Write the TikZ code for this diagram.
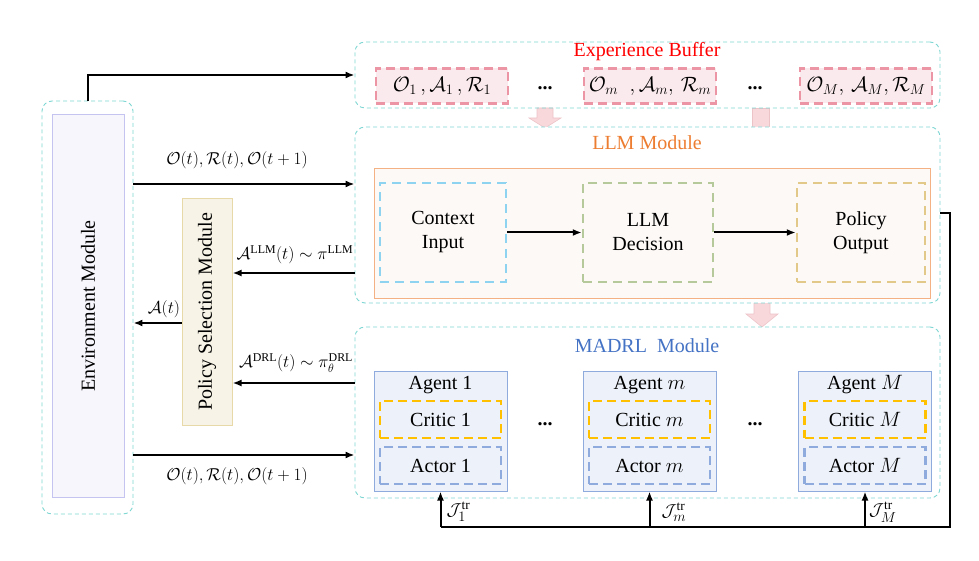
\documentclass[tikz,border=0pt]{standalone}
\usepackage{amsmath}
\usepackage{fontspec}
\setmainfont{Liberation Serif}
\usetikzlibrary{arrows.meta,calc}
\definecolor{tealc}{RGB}{125,214,210}
\definecolor{pinkb}{RGB}{236,150,165}
\definecolor{pinkf}{RGB}{251,234,237}
\definecolor{blkarrf}{RGB}{249,216,220}
\definecolor{blkarrd}{RGB}{236,196,200}
\definecolor{orangec}{RGB}{237,125,49}
\definecolor{llmf}{RGB}{253,249,246}
\definecolor{llmd}{RGB}{244,177,131}
\definecolor{ctxc}{RGB}{142,211,240}
\definecolor{decc}{RGB}{181,201,154}
\definecolor{outc}{RGB}{226,201,138}
\definecolor{bluet}{RGB}{68,114,196}
\definecolor{agf}{RGB}{237,241,249}
\definecolor{agd}{RGB}{143,170,220}
\definecolor{goldc}{RGB}{255,192,0}
\definecolor{polf}{RGB}{247,243,230}
\definecolor{pold}{RGB}{232,217,168}
\definecolor{envf}{RGB}{247,246,253}
\definecolor{envd}{RGB}{197,195,239}
\begin{document}
\begin{tikzpicture}[x=1pt,y=-1pt,font=\fontsize{20}{24}\selectfont,
  modbox/.style={draw=tealc, dash pattern=on 4pt off 3pt, rounded corners=10pt, line width=0.9pt, minimum width=585pt},
  entry/.style={draw=pinkb, fill=pinkf, line width=2.5pt, dash pattern=on 9pt off 5pt, minimum width=132pt, minimum height=35pt, inner sep=0pt},
  subbox/.style={line width=2.5pt, dash pattern=on 9pt off 6pt, minimum height=99pt, align=center, fill=llmf},
  agentbox/.style={draw=agd, fill=agf, line width=1pt, minimum width=133pt, minimum height=120pt},
  critbox/.style={draw=goldc, line width=2.5pt, dash pattern=on 9pt off 5pt, minimum width=121pt, minimum height=37pt},
  actbox/.style={draw=agd, line width=2.5pt, dash pattern=on 9pt off 5pt, minimum width=121pt, minimum height=37pt},
  arr/.style={-{Latex[length=9pt,width=7pt]}, line width=2pt},
  blk/.style={fill=blkarrf, draw=blkarrd, line width=0.6pt},
  lbl/.style={font=\fontsize{17}{20}\selectfont, inner sep=0pt},
  jlbl/.style={font=\fontsize{19}{22}\selectfont, inner sep=0pt, anchor=west},
  dots/.style={font=\fontsize{20}{24}\selectfont\bfseries, inner sep=0pt}]
\path[use as bounding box] (0,0) rectangle (979,561);

% pink block arrows (behind modules)
\draw[blk] (537,108) -- (553,108) -- (553,118) -- (561,118) -- (545,128) -- (529,118) -- (537,118) -- cycle;
\draw[blk] (752,108) rectangle (769,127);
\draw[blk] (754,303) -- (770,303) -- (770,314) -- (778,314) -- (762,327) -- (746,314) -- (754,314) -- cycle;

% Environment
\node[modbox, minimum width=91pt, minimum height=413pt] (envout) at (87.5,307.5) {};
\node[draw=envd, fill=envf, line width=1pt, minimum width=72pt, minimum height=382pt] (envin) at (88,306) {};
\node[rotate=90] (envtxt) at (envin.center) {Environment Module};

% Experience buffer
\node[modbox, minimum height=66pt] (buf) at (647.5,75) {};
\node[text=red] (buft) at (647,52) {Experience Buffer};
\node[entry] (e1) at (442,86) {$\mathcal{O}_1\,,\mathcal{A}_1\,,\mathcal{R}_1$};
\node[entry] (e2) at (650,86) {$\mathcal{O}_m\;\;,\mathcal{A}_{m},\,\mathcal{R}_m$};
\node[entry] (e3) at (866,86) {$\mathcal{O}_M,\,\mathcal{A}_M,\mathcal{R}_M$};
\node[dots] (d1) at (545,88) {...};
\node[dots] (d2) at (755,88) {...};

% LLM module
\node[modbox, minimum height=176pt, fill=white] (llm) at (647.5,215) {};
\node[text=orangec] (llmt) at (647,143) {LLM Module};
\node[draw=llmd, fill=llmf, line width=1pt, minimum width=556pt, minimum height=129pt] (llmin) at (652,233.5) {};
\node[subbox, draw=ctxc, minimum width=126pt] (ctx) at (443,232.5) {Context\\Input};
\node[subbox, draw=decc, minimum width=130pt] (dec) at (648,232.5) {LLM\\Decision};
\node[subbox, draw=outc, minimum width=128pt] (pout) at (861,232.5) {Policy\\Output};
\draw[arr] (ctx) -- (dec);
\draw[arr] (dec) -- (pout);

% MADRL module
\node[modbox, minimum height=171pt, fill=white] (madrl) at (647.5,412.5) {};
\node[text=bluet] (madt) at (647,346) {MADRL\ \ Module};
\foreach \n/\x/\s in {1/440.5/1, m/649.5/$m$, M/865/$M$}{
  \node[agentbox] (ag\n) at (\x,431) {};
  \node[inner sep=0pt] (agt\n) at ($(ag\n)+(0,-46)$) {Agent \s};
  \node[critbox] (cr\n) at ($(ag\n)+(0,-11.5)$) {Critic \s};
  \node[actbox] (ac\n) at ($(ag\n)+(0,34.5)$) {Actor \s};
}
\node[dots] (d3) at (545,424) {...};
\node[dots] (d4) at (755,424) {...};

% Policy selection
\node[draw=pold, fill=polf, line width=1pt, minimum width=50pt, minimum height=226pt] (pol) at (207,312) {};
\node[rotate=90] (poltxt) at (pol.center) {Policy Selection Module};

% helper heights
\coordinate (ya) at (0,184);
\coordinate (yb) at (0,273);
\coordinate (yc) at (0,323);
\coordinate (yd) at (0,383);
\coordinate (ye) at (0,455);
\coordinate (yf) at (0,213);
\coordinate (fb) at (950,527);
\coordinate (yj) at (0,512);

% arrows
\draw[arr] (envout.north) |- (buf.west);
\draw[arr] (envout.east |- ya) -- (llm.west |- ya);
\draw[arr] (llm.west |- yb) -- (pol.east |- yb);
\draw[arr] (pol.west |- yc) -- (envout.east |- yc);
\draw[arr] (madrl.west |- yd) -- (pol.east |- yd);
\draw[arr] (envout.east |- ye) -- (madrl.west |- ye);

\node[lbl] (l1) at (237,160) {$\mathcal{O}(t),\mathcal{R}(t),\mathcal{O}(t+1)$};
\node[lbl] (l2) at (295,255) {$\mathcal{A}^{\mathrm{LLM}}(t)\sim\pi^{\mathrm{LLM}}$};
\node[lbl] (l3) at (164,309) {$\mathcal{A}(t)$};
\node[lbl] (l4) at (296,363) {$\mathcal{A}^{\mathrm{DRL}}(t)\sim\pi_\theta^{\mathrm{DRL}}$};
\node[lbl] (l5) at (237,476) {$\mathcal{O}(t),\mathcal{R}(t),\mathcal{O}(t+1)$};

% feedback loop
\draw[line width=2pt] (llm.east |- yf) -| (fb) -- (ag1.south |- fb);
\draw[arr] (ag1.south |- fb) -- (ag1.south);
\draw[arr] (agm.south |- fb) -- (agm.south);
\draw[arr] (agM.south |- fb) -- (agM.south);
\node[jlbl] (j1) at ([xshift=6pt]ag1.south |- yj) {$\mathcal{J}_1^{\mathrm{tr}}$};
\node[jlbl] (jm) at ([xshift=12pt]agm.south |- yj) {$\mathcal{J}_m^{\mathrm{tr}}$};
\node[jlbl] (jM) at ([xshift=4pt]agM.south |- yj) {$\mathcal{J}_M^{\mathrm{tr}}$};
\end{tikzpicture}
\end{document}
